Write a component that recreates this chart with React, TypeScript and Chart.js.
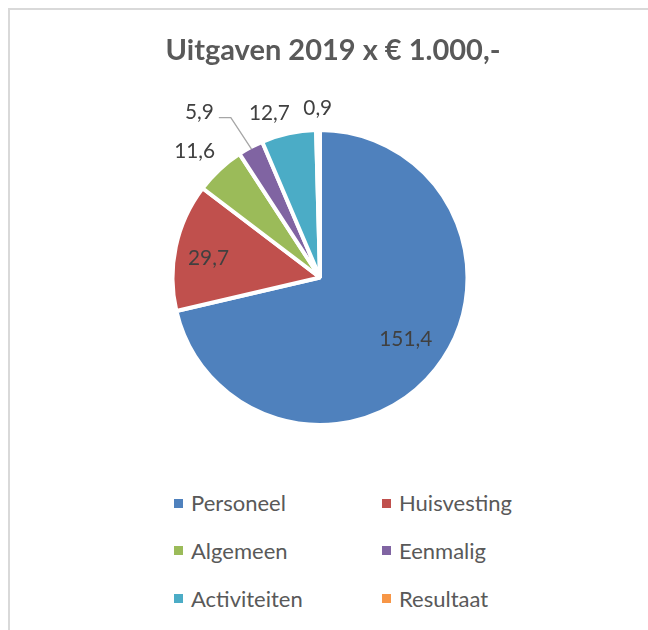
import React, { useEffect, useRef } from "react";
import { Chart, registerables } from "chart.js";

Chart.register(...registerables);

const TITLE = "Uitgaven 2019 x € 1.000,-";
const CATEGORIES = ["Personeel", "Huisvesting", "Algemeen", "Eenmalig", "Activiteiten", "Resultaat"];
const VALUES = [151.4, 29.7, 11.6, 5.9, 12.7, 0.9];
const COLORS = ["#4F81BD", "#C0504D", "#9BBB59", "#8064A2", "#4BACC6", "#F79646"];

// label placement (relative to each slice's mid angle / outer radius)
const LABEL_RADIUS = [0.716, 0.767, 1.204, 1.385, 1.168, 1.15];
const LABEL_ANGLE_SHIFT = [-2.7, -2.3, -2, -8.1, -4.8, 0];
const LABEL_LEADER = [false, false, false, true, false, false];

const FONT = "Lato, 'Open Sans', sans-serif";

const fmt = (v: number) => v.toFixed(1).replace(".", ",");

const dataLabels = {
  id: "dataLabels",
  afterDatasetsDraw(chart: any) {
    const ctx = chart.ctx as CanvasRenderingContext2D;
    const meta = chart.getDatasetMeta(0);
    ctx.save();
    ctx.font = `20.8px ${FONT}`;
    ctx.fillStyle = "#404040";
    ctx.textAlign = "center";
    ctx.textBaseline = "middle";
    meta.data.forEach((arc: any, i: number) => {
      const { x, y, startAngle, endAngle, outerRadius } = arc.getProps(
        ["x", "y", "startAngle", "endAngle", "outerRadius"],
        true
      );
      const am = (startAngle + endAngle) / 2;
      const mid = am + (LABEL_ANGLE_SHIFT[i] * Math.PI) / 180;
      const r = outerRadius * LABEL_RADIUS[i];
      const lx = x + r * Math.cos(mid);
      const ly = y + r * Math.sin(mid);
      const text = fmt(VALUES[i]);
      ctx.fillText(text, lx, ly);
      if (LABEL_LEADER[i]) {
        const w = ctx.measureText(text).width;
        const ar = outerRadius - 2;
        const ax = x + ar * Math.cos(am);
        const ay = y + ar * Math.sin(am);
        const sx = lx + w / 2 + 5;
        const sy = ly + 5;
        ctx.beginPath();
        ctx.moveTo(sx, sy);
        ctx.lineTo(sx + 12, sy);
        ctx.lineTo(ax, ay);
        ctx.strokeStyle = "#A6A6A6";
        ctx.lineWidth = 1.3;
        ctx.stroke();
      }
    });
    ctx.restore();
  },
};

const titleShift = {
  id: "titleShift",
  afterLayout(chart: any) {
    const t = chart.titleBlock;
    if (t) {
      t.left += 13;
      t.right += 13;
    }
  },
};

export default function App() {
  const canvasRef = useRef<HTMLCanvasElement | null>(null);

  useEffect(() => {
    let chart: Chart | null = null;
    let cancelled = false;
    const make = () => {
      if (cancelled || !canvasRef.current) return;
      chart = new Chart(canvasRef.current, {
        type: "pie",
        data: {
          labels: CATEGORIES,
          datasets: [
            {
              data: VALUES,
              backgroundColor: COLORS,
              borderColor: "#FFFFFF",
              borderWidth: 4,
              hoverOffset: 0,
            },
          ],
        },
        options: {
          responsive: false,
          animation: false,
          layout: { padding: { left: 0, right: 8, top: 0, bottom: 23 } },
          plugins: {
            legend: { display: false },
            tooltip: { enabled: false },
            title: {
              display: true,
              text: TITLE,
              color: "#595959",
              font: { family: FONT, size: 29, weight: "bold", lineHeight: 1.2 },
              padding: { top: 32.8, bottom: 60.4 },
            },
          },
        } as any,
        plugins: [dataLabels, titleShift],
      });
    };
    const fonts: any = (document as any).fonts;
    if (fonts && fonts.load) {
      Promise.all([fonts.load(`bold 29px Lato`), fonts.load(`20px Lato`)])
        .catch(() => null)
        .then(make);
    } else {
      make();
    }
    return () => {
      cancelled = true;
      if (chart) chart.destroy();
    };
  }, []);

  return (
    <div
      style={{
        position: "fixed",
        left: 0,
        top: 0,
        width: 648,
        height: 630,
        overflow: "hidden",
        background: "#FFFFFF",
      }}
    >
      <div
        style={{
          position: "absolute",
          left: 8,
          top: 8,
          width: 800,
          height: 800,
          borderLeft: "2px solid #D9D9D9",
          borderTop: "2px solid #D9D9D9",
        }}
      />
      <canvas
        ref={canvasRef}
        width={648}
        height={450}
        style={{ position: "absolute", left: 0, top: 0, width: 648, height: 450, display: "block" }}
      />
      <div
        style={{
          position: "absolute",
          left: 174,
          top: 491,
          display: "grid",
          gridTemplateColumns: "208px 208px",
          gridAutoRows: "47.75px",
        }}
      >
        {CATEGORIES.map((c, i) => (
          <div
            key={c}
            style={{
              display: "flex",
              alignItems: "center",
              alignSelf: "start",
              height: 24,
              font: `22px ${FONT}`,
              color: "#595959",
            }}
          >
            <span
              style={{ width: 9, height: 9, background: COLORS[i], marginRight: 8, flex: "none" }}
            />
            <span style={{ lineHeight: "24px", whiteSpace: "nowrap" }}>{c}</span>
          </div>
        ))}
      </div>
    </div>
  );
}
